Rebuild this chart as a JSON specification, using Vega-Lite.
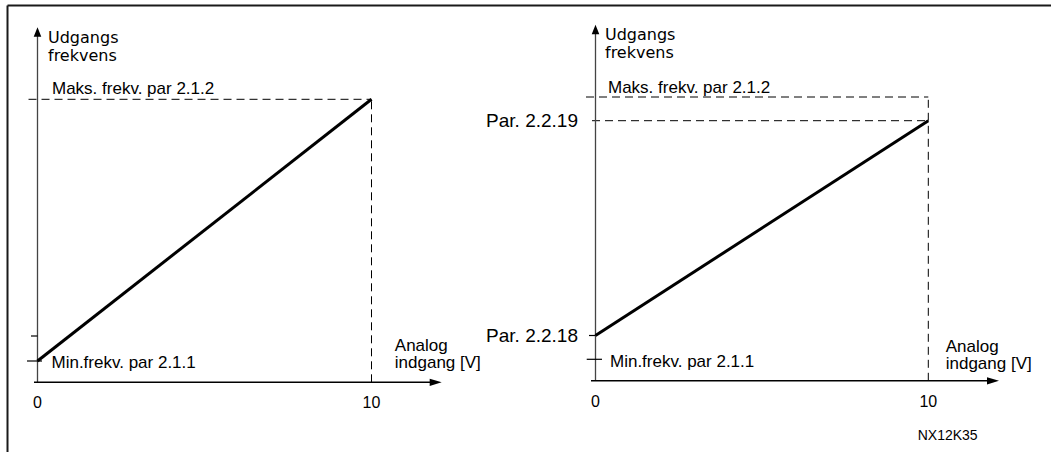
{
  "$schema": "https://vega.github.io/schema/vega-lite/v6.json",
  "padding": 0,
  "spacing": 0,
  "bounds": "flush",
  "background": "white",
  "config": {"view": {"stroke": null}},
  "resolve": {"scale": {"x": "independent", "y": "independent"}},
  "hconcat": [
    {
      "width": 520,
      "height": 452,
      "encoding": {
        "x": {"field": "x", "type": "quantitative", "scale": {"domain": [-1.1228, 14.4461], "nice": false, "zero": false}, "axis": null},
        "y": {"field": "y", "type": "quantitative", "scale": {"domain": [-24.629, 135.088], "nice": false, "zero": false}, "axis": null}
      },
      "layer": [
        {"data": {"values": [{"x": -0.898, "y": -24.629, "y2": 133.145}]}, "mark": {"type": "rule", "color": "#1a1a1a", "strokeWidth": 2}, "encoding": {"y2": {"field": "y2"}}},
        {"data": {"values": [{"x": -0.898, "x2": 14.4461, "y": 133.145}]}, "mark": {"type": "rule", "color": "#1a1a1a", "strokeWidth": 2}, "encoding": {"x2": {"field": "x2"}}},
        {"data": {"values": [{"x": -0.269, "x2": 10, "y": 100}]}, "mark": {"type": "rule", "color": "#000", "strokeWidth": 1, "strokeDash": [8, 5]}, "encoding": {"x2": {"field": "x2"}}},
        {"data": {"values": [{"x": 10, "y": 0, "y2": 100}]}, "mark": {"type": "rule", "color": "#000", "strokeWidth": 1, "strokeDash": [8, 5]}, "encoding": {"y2": {"field": "y2"}}},
        {"data": {"values": [{"x": 0, "y": 0, "y2": 123.78}]}, "mark": {"type": "rule", "color": "#444", "strokeWidth": 1.3}, "encoding": {"y2": {"field": "y2"}}},
        {"data": {"values": [{"x": -0.105, "x2": 11.922, "y": 0}]}, "mark": {"type": "rule", "color": "#000", "strokeWidth": 1.5}, "encoding": {"x2": {"field": "x2"}}},
        {"data": {"values": [{"x": -0.314, "x2": 0.135, "y": 7.527}, {"x": -0.195, "x2": 0, "y": 16.36}]}, "mark": {"type": "rule", "color": "#000", "strokeWidth": 1.2}, "encoding": {"x2": {"field": "x2"}}},
        {"data": {"values": [{"x": 0, "y": 123.78}]}, "mark": {"type": "point", "shape": "M0,-1L0.8,1L-0.8,1Z", "size": 90, "filled": true, "color": "#000", "opacity": 1}},
        {"data": {"values": [{"x": 11.922, "y": 0}]}, "mark": {"type": "point", "shape": "M1,0L-1,-0.6L-1,0.6Z", "size": 144, "filled": true, "color": "#000", "opacity": 1}},
        {"data": {"values": [{"x": 0, "y": 7.527}, {"x": 10, "y": 100}]}, "mark": {"type": "line", "color": "#000", "strokeWidth": 3}},
        {"data": {"values": [{"x": 0, "y": 100, "label": "Udgangs\nfrekvens"}]}, "mark": {"type": "text", "align": "left", "baseline": "alphabetic", "dx": 10.5, "dy": -56, "font": "DejaVu Sans", "fontSize": 16, "lineBreak": "\n", "lineHeight": 17.5, "color": "#000"}, "encoding": {"text": {"field": "label"}}},
        {"data": {"values": [{"x": 0, "y": 100, "label": "Maks. frekv. par 2.1.2"}]}, "mark": {"type": "text", "align": "left", "baseline": "alphabetic", "dx": 14.5, "dy": -5.3, "font": "Liberation Sans", "fontSize": 17, "color": "#000"}, "encoding": {"text": {"field": "label"}}},
        {"data": {"values": [{"x": 0, "y": 7.527, "label": "Min.frekv. par 2.1.1"}]}, "mark": {"type": "text", "align": "left", "baseline": "alphabetic", "dx": 14, "dy": 6.7, "font": "Liberation Sans", "fontSize": 17, "color": "#000"}, "encoding": {"text": {"field": "label"}}},
        {"data": {"values": [{"x": 0, "y": 0, "label": "0"}, {"x": 10, "y": 0, "label": "10"}]}, "mark": {"type": "text", "align": "center", "baseline": "alphabetic", "dy": 26, "font": "Liberation Sans", "fontSize": 16, "color": "#000"}, "encoding": {"text": {"field": "label"}}},
        {"data": {"values": [{"x": 10, "y": 0, "label": "Analog\nindgang [V]"}]}, "mark": {"type": "text", "align": "left", "baseline": "alphabetic", "dx": 23.3, "dy": -31.6, "font": "Liberation Sans", "fontSize": 17, "lineBreak": "\n", "lineHeight": 17, "color": "#000"}, "encoding": {"text": {"field": "label"}}}
      ]
    },
    {
      "width": 531,
      "height": 452,
      "encoding": {
        "x": {"field": "x", "type": "quantitative", "scale": {"domain": [-2.2686, 13.6869], "nice": false, "zero": false}, "axis": null},
        "y": {"field": "y", "type": "quantitative", "scale": {"domain": [-25.088, 134.179], "nice": false, "zero": false}, "axis": null}
      },
      "layer": [
        {"data": {"values": [{"x": -2.2686, "x2": 13.6869, "y": 132.24}]}, "mark": {"type": "rule", "color": "#1a1a1a", "strokeWidth": 2}, "encoding": {"x2": {"field": "x2"}}},
        {"data": {"values": [{"x": -0.285, "x2": 10, "y": 100}, {"x": -0.105, "x2": 10, "y": 91.65}]}, "mark": {"type": "rule", "color": "#000", "strokeWidth": 1, "strokeDash": [8, 5]}, "encoding": {"x2": {"field": "x2"}}},
        {"data": {"values": [{"x": 10, "y": 0, "y2": 100}]}, "mark": {"type": "rule", "color": "#000", "strokeWidth": 1, "strokeDash": [8, 5]}, "encoding": {"y2": {"field": "y2"}}},
        {"data": {"values": [{"x": 0, "y": 0, "y2": 123.78}]}, "mark": {"type": "rule", "color": "#444", "strokeWidth": 1.3}, "encoding": {"y2": {"field": "y2"}}},
        {"data": {"values": [{"x": -0.135, "x2": 11.944, "y": 0}]}, "mark": {"type": "rule", "color": "#000", "strokeWidth": 1.5}, "encoding": {"x2": {"field": "x2"}}},
        {"data": {"values": [{"x": -0.264, "x2": 0.195, "y": 7.576}, {"x": -0.195, "x2": 0, "y": 15.96}]}, "mark": {"type": "rule", "color": "#000", "strokeWidth": 1.2}, "encoding": {"x2": {"field": "x2"}}},
        {"data": {"values": [{"x": 0, "y": 123.78}]}, "mark": {"type": "point", "shape": "M0,-1L0.8,1L-0.8,1Z", "size": 90, "filled": true, "color": "#000", "opacity": 1}},
        {"data": {"values": [{"x": 11.944, "y": 0}]}, "mark": {"type": "point", "shape": "M1,0L-1,-0.6L-1,0.6Z", "size": 144, "filled": true, "color": "#000", "opacity": 1}},
        {"data": {"values": [{"x": 0, "y": 15.96}, {"x": 10, "y": 91.65}]}, "mark": {"type": "line", "color": "#000", "strokeWidth": 3}},
        {"data": {"values": [{"x": 0, "y": 100, "label": "Udgangs\nfrekvens"}]}, "mark": {"type": "text", "align": "left", "baseline": "alphabetic", "dx": 9.5, "dy": -57, "font": "DejaVu Sans", "fontSize": 16, "lineBreak": "\n", "lineHeight": 17.5, "color": "#000"}, "encoding": {"text": {"field": "label"}}},
        {"data": {"values": [{"x": 0, "y": 100, "label": "Maks. frekv. par 2.1.2"}]}, "mark": {"type": "text", "align": "left", "baseline": "alphabetic", "dx": 12.5, "dy": -4.3, "font": "Liberation Sans", "fontSize": 17, "color": "#000"}, "encoding": {"text": {"field": "label"}}},
        {"data": {"values": [{"x": 0, "y": 91.65, "label": "Par. 2.2.19"}, {"x": 0, "y": 15.96, "label": "Par. 2.2.18"}]}, "mark": {"type": "text", "align": "right", "baseline": "alphabetic", "dx": -17.5, "dy": 6, "font": "Liberation Sans", "fontSize": 19, "color": "#000"}, "encoding": {"text": {"field": "label"}}},
        {"data": {"values": [{"x": 0, "y": 7.576, "label": "Min.frekv. par 2.1.1"}]}, "mark": {"type": "text", "align": "left", "baseline": "alphabetic", "dx": 14.5, "dy": 8, "font": "Liberation Sans", "fontSize": 17, "color": "#000"}, "encoding": {"text": {"field": "label"}}},
        {"data": {"values": [{"x": 0, "y": 0, "label": "0"}, {"x": 10, "y": 0, "label": "10"}]}, "mark": {"type": "text", "align": "center", "baseline": "alphabetic", "dy": 26, "font": "Liberation Sans", "fontSize": 16, "color": "#000"}, "encoding": {"text": {"field": "label"}}},
        {"data": {"values": [{"x": 10, "y": 0, "label": "Analog\nindgang [V]"}]}, "mark": {"type": "text", "align": "left", "baseline": "alphabetic", "dx": 17.4, "dy": -29, "font": "Liberation Sans", "fontSize": 17, "lineBreak": "\n", "lineHeight": 17, "color": "#000"}, "encoding": {"text": {"field": "label"}}},
        {"data": {"values": [{"x": 10, "y": 0, "label": "NX12K35"}]}, "mark": {"type": "text", "align": "left", "baseline": "alphabetic", "dx": -10.6, "dy": 59.2, "font": "Liberation Sans", "fontSize": 14, "color": "#000"}, "encoding": {"text": {"field": "label"}}}
      ]
    }
  ]
}
